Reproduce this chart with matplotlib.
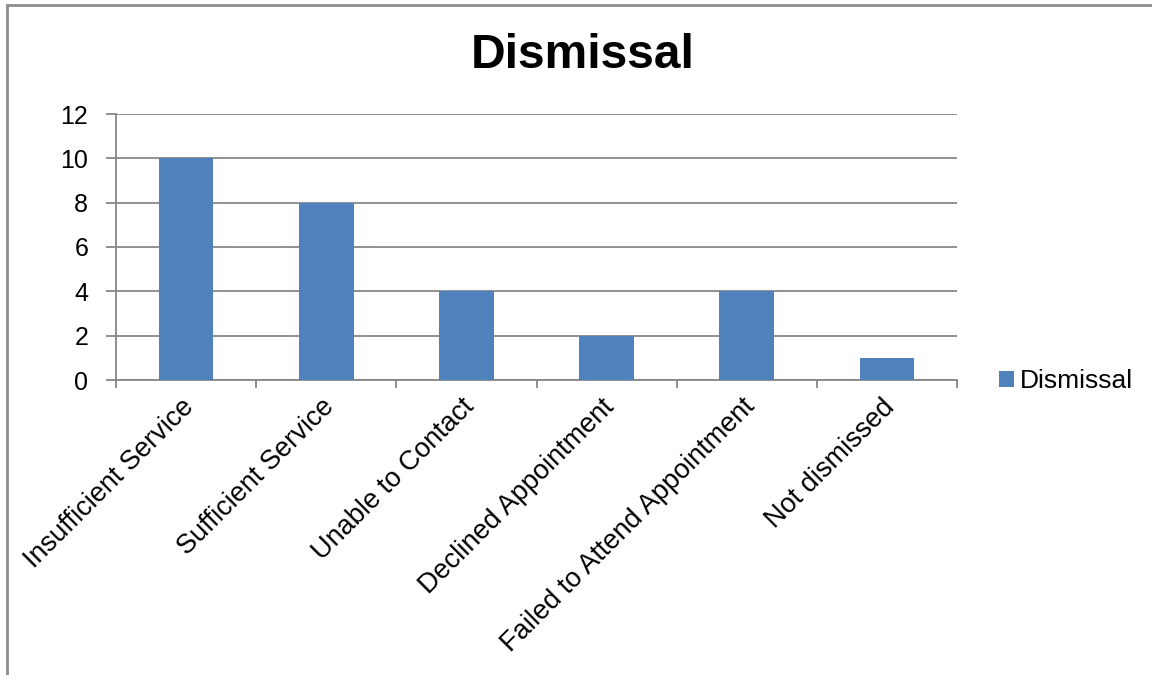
import matplotlib
matplotlib.use('Agg')
import matplotlib.pyplot as plt
from matplotlib.patches import Rectangle
from matplotlib.transforms import ScaledTranslation

plt.rcParams['font.family'] = ['Liberation Sans', 'DejaVu Sans']

categories = ['Insufficient Service', 'Sufficient Service', 'Unable to Contact',
              'Declined Appointment', 'Failed to Attend Appointment', 'Not dismissed']
values = [10, 8, 4, 2, 4, 1]
yticks = [0, 2, 4, 6, 8, 10, 12]

bar_color = '#4f81bd'
grid_color = '#878787'

fig = plt.figure(figsize=(11.52, 6.75), dpi=100)
# plot area in figure pixels: x 116..957, y 114..380
ax = fig.add_axes([116 / 1152, 1 - 380 / 675, (957 - 116) / 1152, (380 - 114) / 675])

x = list(range(len(categories)))
ax.bar(x, values, width=0.39, color=bar_color, zorder=3, label='Dismissal')

ax.set_xlim(-0.5, len(categories) - 0.5)
ax.set_ylim(0, 12)
ax.set_yticks(yticks)
ax.yaxis.grid(True, color=grid_color, linewidth=1.3, zorder=0)

# category ticks between bars
ax.set_xticks([i - 0.5 for i in range(len(categories) + 1)])
ax.set_xticklabels([])
ax.set_xticks(x, minor=True)
ax.set_xticklabels(categories, minor=True, rotation=45, ha='right',
                   rotation_mode='anchor', fontsize=19.5)
ax.tick_params(axis='x', which='minor', length=0, pad=10)
ax.tick_params(axis='x', which='major', length=6, color=grid_color, width=1.3)
ax.tick_params(axis='y', length=7, color=grid_color, width=1.3, labelsize=18, pad=13)

# nudge the slanted labels a little to the left
shift = ScaledTranslation(-5 / 100, 0, fig.dpi_scale_trans)
for lbl in ax.get_xticklabels(minor=True):
    lbl.set_transform(lbl.get_transform() + shift)

for side in ['top', 'right']:
    ax.spines[side].set_visible(False)
for side in ['left', 'bottom']:
    ax.spines[side].set_color(grid_color)
    ax.spines[side].set_linewidth(1.3)

fig.text(583 / 1152, 1 - 55 / 675, 'Dismissal', fontsize=34.5, fontweight='bold',
         ha='center', va='center')

leg = fig.legend(loc='center left', bbox_to_anchor=(999 / 1152, 1 - 381 / 675),
                 frameon=False, fontsize=19, handlelength=0.55, handleheight=0.55,
                 handletextpad=0.25, borderaxespad=0, borderpad=0)

# outer chart border
fig.patches.append(Rectangle((7 / 1152, -0.05), 1.1, 1 - 5 / 675 + 0.05,
                             transform=fig.transFigure, fill=False,
                             edgecolor='#8c8c8c', linewidth=2))

fig.savefig('out.png', dpi=100)
